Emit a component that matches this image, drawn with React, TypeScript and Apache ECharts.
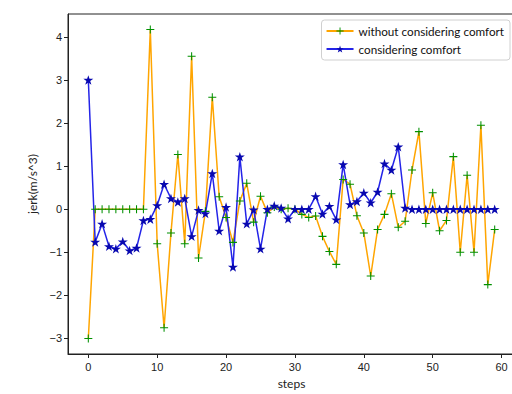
import React, { useEffect, useRef } from "react";
import * as echarts from "echarts";

const seriesNames = ["without considering comfort", "considering comfort"];

const steps = Array.from({ length: 60 }, (_, i) => i);

const withoutComfort = [
  -3.0, 0, 0, 0, 0, 0, 0, 0, 0, 4.17,
  -0.8, -2.75, -0.55, 1.27, -0.8, 3.55, -1.13, -0.05, 2.6, 0.29,
  -0.19, -0.77, 0.19, 0.6, -0.3, 0.3, -0.08, 0.05, 0.0, 0.02,
  0.0, -0.12, -0.19, -0.16, -0.63, -0.98, -1.28, 0.69, 0.58, -0.15,
  -0.55, -1.55, -0.47, -0.12, 0.36, -0.42, -0.28, 0.91, 1.8, -0.33,
  0.38, -0.5, -0.26, 1.22, -1.0, 0.79, -1.0, 1.95, -1.75, -0.47,
];

const withComfort = [
  3.0, -0.76, -0.34, -0.86, -0.92, -0.75, -0.96, -0.9, -0.26, -0.23,
  0.09, 0.58, 0.25, 0.17, 0.25, -0.63, -0.02, -0.1, 0.83, -0.5,
  0.05, -1.34, 1.22, -0.34, -0.01, -0.92, 0.0, 0.08, 0.03, -0.22,
  0.0, 0.0, 0.0, 0.3, -0.11, 0.07, -0.24, 1.04, 0.11, 0.18,
  0.38, 0.15, 0.4, 1.06, 0.91, 1.45, 0.03, 0, 0, 0,
  0, 0, 0, 0, 0, 0, 0, 0, 0, 0,
];

const xRange = [-2.95, 61.95];
const yRange = [-3.36, 4.53];

const starPath =
  "path://M0,-1 L0.2245,-0.309 L0.951,-0.309 L0.363,0.118 L0.588,0.809 L0,0.382 L-0.588,0.809 L-0.363,0.118 L-0.951,-0.309 L-0.2245,-0.309 Z";
const plusPath =
  "path://M-0.13,-1 L0.13,-1 L0.13,-0.13 L1,-0.13 L1,0.13 L0.13,0.13 L0.13,1 L-0.13,1 L-0.13,0.13 L-1,0.13 L-1,-0.13 L-0.13,-0.13 Z";

const tickFont = "'Liberation Sans', Arial, sans-serif";
const textFont = "Lato, 'Open Sans', sans-serif";

export default function App() {
  const ref = useRef<HTMLDivElement>(null);
  useEffect(() => {
    document.body.style.margin = "0";
    document.body.style.overflow = "hidden";
    if (!ref.current) return;
    const chart = echarts.init(ref.current, null, { renderer: "svg" });
    const minusFmt = (v: number) => String(v).replace("-", "\u2212");
    chart.setOption({
      animation: false,
      backgroundColor: "#ffffff",
      grid: {
        left: 68,
        top: 14,
        right: 3,
        bottom: 40,
        show: true,
        borderColor: "#222",
        borderWidth: 1,
        backgroundColor: "transparent",
      },
      legend: {
        orient: "vertical",
        right: 8,
        top: 20,
        itemWidth: 27,
        itemHeight: 9,
        itemGap: 6,
        padding: [5, 6, 5, 4],
        borderColor: "#d0d0d0",
        borderWidth: 1,
        borderRadius: 3,
        backgroundColor: "rgba(255,255,255,0.85)",
        textStyle: { fontFamily: textFont, fontSize: 11.7, color: "#111" },
        data: seriesNames,
      },
      xAxis: {
        type: "value",
        min: xRange[0],
        max: xRange[1],
        splitNumber: 6,
        name: "steps",
        nameLocation: "middle",
        nameGap: 23,
        nameTextStyle: { fontFamily: textFont, fontSize: 12, color: "#222" },
        splitLine: { show: false },
        axisLine: { show: true, onZero: false, lineStyle: { color: "#222", width: 1 } },
        axisTick: { show: true, length: 4, lineStyle: { color: "#222" } },
        axisLabel: {
          showMinLabel: false,
          showMaxLabel: false,
          margin: 7,
          fontFamily: tickFont,
          fontSize: 11,
          color: "#222",
          formatter: minusFmt,
        },
      },
      yAxis: {
        type: "value",
        min: yRange[0],
        max: yRange[1],
        splitNumber: 8,
        name: "jerk(m/s^3)",
        nameLocation: "middle",
        nameGap: 30,
        nameTextStyle: { fontFamily: textFont, fontSize: 12, color: "#222" },
        splitLine: { show: false },
        axisLine: { show: true, onZero: false, lineStyle: { color: "#222", width: 1 } },
        axisTick: { show: true, length: 4, lineStyle: { color: "#222" } },
        axisLabel: {
          showMinLabel: false,
          showMaxLabel: false,
          margin: 6,
          fontFamily: tickFont,
          fontSize: 11,
          color: "#222",
          formatter: minusFmt,
        },
      },
      series: [
        {
          name: seriesNames[0],
          type: "line",
          data: steps.map((s, i) => [s, withoutComfort[i]]),
          symbol: plusPath,
          symbolSize: 8,
          symbolKeepAspect: true,
          showAllSymbol: true,
          lineStyle: { color: "#ffa500", width: 1.5 },
          itemStyle: { color: "#009000", borderWidth: 0 },
        },
        {
          name: seriesNames[1],
          type: "line",
          data: steps.map((s, i) => [s, withComfort[i]]),
          symbol: starPath,
          symbolSize: 10,
          symbolKeepAspect: true,
          showAllSymbol: true,
          lineStyle: { color: "#2424e8", width: 1.5 },
          itemStyle: { color: "#0808b0", borderWidth: 0 },
        },
      ],
    });
    return () => chart.dispose();
  }, []);
  return <div ref={ref} style={{ width: 518, height: 394 }} />;
}
